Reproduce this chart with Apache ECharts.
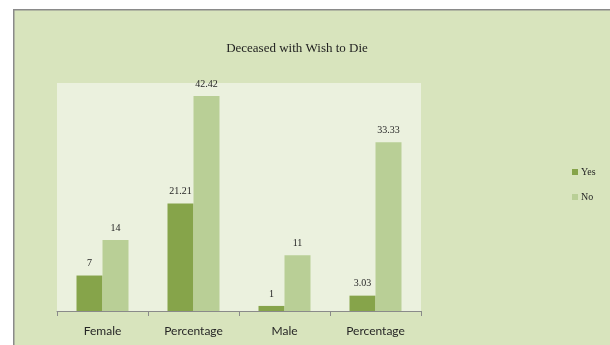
<!DOCTYPE html>
<html>
<head>
<meta charset="utf-8">
<script src="https://cdn.jsdelivr.net/npm/echarts@6/dist/echarts.min.js"></script>
<style>
  html, body { margin: 0; padding: 0; background: #fff; }
  #chart { width: 610px; height: 345px; }
</style>
</head>
<body>
<div id="chart"></div>
<script>
var categories = ["Female", "Percentage", "Male", "Percentage"];
var yesValues = [7, 21.21, 1, 3.03];
var noValues = [14, 42.42, 11, 33.33];
var seriesNames = ["Yes", "No"];

var chart = echarts.init(document.getElementById("chart"));
var serif = "'Liberation Serif', 'DejaVu Serif', serif";
var labelStyle = {
    show: true,
    position: "top",
    distance: 7,
    fontFamily: serif,
    fontSize: 10,
    color: "#262626"
};

chart.setOption({
    backgroundColor: "#ffffff",
    animation: false,
    graphic: [{
        type: "rect",
        left: 13,
        top: 9,
        shape: { width: 620, height: 360 },
        style: { fill: "#d8e4bd", stroke: "#8a8a8a", lineWidth: 1.5 },
        z: -10
    }],
    title: {
        text: "Deceased with Wish to Die",
        left: 292,
        top: 37,
        textAlign: "center",
        textStyle: {
            fontFamily: serif,
            fontSize: 13,
            fontWeight: "normal",
            color: "#1f1f1f"
        }
    },
    legend: {
        data: seriesNames,
        orient: "vertical",
        left: 567,
        top: 162,
        itemWidth: 6,
        itemHeight: 6,
        itemGap: 15,
        icon: "rect",
        textStyle: { fontFamily: serif, fontSize: 10, color: "#262626", padding: [0, 0, 0, -2] }
    },
    grid: {
        left: 57,
        right: 189,
        top: 83,
        bottom: 34,
        show: true,
        backgroundColor: "#ebf1de",
        borderWidth: 0
    },
    xAxis: {
        type: "category",
        data: categories,
        axisLine: { lineStyle: { color: "#8a8a8a" } },
        axisTick: { show: true, length: 5, lineStyle: { color: "#8a8a8a" } },
        axisLabel: {
            fontFamily: "Lato, 'Liberation Sans', sans-serif",
            fontSize: 12,
            color: "#262626",
            margin: 14
        }
    },
    yAxis: {
        type: "value",
        min: 0,
        max: 45,
        show: false,
        splitLine: { show: false }
    },
    series: [{
        name: seriesNames[0],
        type: "bar",
        data: yesValues,
        barWidth: 26,
        barGap: "0%",
        itemStyle: { color: "#86a44a" },
        label: labelStyle
    }, {
        name: seriesNames[1],
        type: "bar",
        data: noValues,
        barWidth: 26,
        itemStyle: { color: "#b9cf96" },
        label: labelStyle
    }]
});
</script>
</body>
</html>
